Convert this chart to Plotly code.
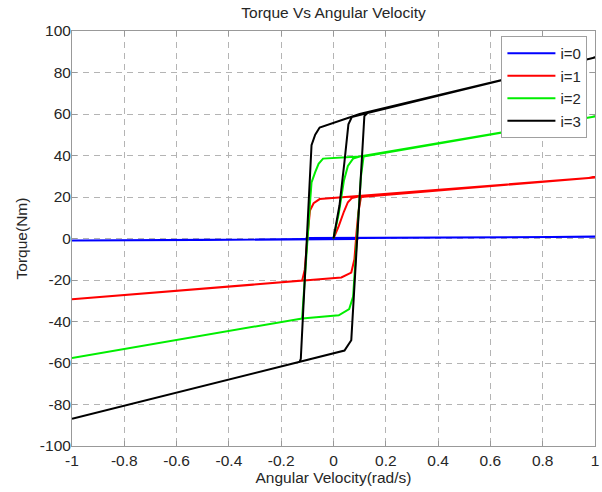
import plotly.graph_objects as go

# ---- data ----
names = ["i=0", "i=1", "i=2", "i=3"]
colors = ["#0000ff", "#ff0000", "#00ee00", "#000000"]

# i=0
v0_init = [0.0, 0.05]
t0_init = [0.0, 0.3]
v0_desc = [0.05, 1.0, -0.1, -0.11, -1.0]
t0_desc = [0.3, 0.8, 0.3, -0.3, -1.0]
v0_asc = [-1.0, 0.09, 0.1, 1.0]
t0_asc = [-1.0, -0.3, 0.3, 0.8]

# i=1
v1_init = [0.0, 0.02, 0.04, 0.055, 0.07, 0.1]
t1_init = [0.0, 6.0, 13.0, 17.5, 19.5, 20.4]
v1_desc = [0.1, 1.0, 0.1, -0.053, -0.076, -0.09, -0.1, -0.11, -0.12, -1.0]
t1_desc = [20.4, 29.4, 20.4, 19.0, 17.0, 13.5, 0.0, -15.0, -20.3, -29.3]
v1_asc = [-1.0, -0.12, 0.03, 0.068, 0.08, 0.088, 0.095, 0.105, 1.0]
t1_asc = [-29.3, -20.3, -18.8, -16.4, -10.0, 3.0, 12.5, 20.0, 29.4]

# i=2
v2_init = [0.0, 0.02, 0.04, 0.055, 0.075, 0.1]
t2_init = [0.0, 12.0, 28.0, 35.0, 38.5, 39.5]
v2_desc = [0.1, 1.0, 0.1, -0.04, -0.057, -0.07, -0.084, -0.09, -0.1, -0.11, -0.12, -1.0]
t2_desc = [39.5, 58.8, 39.5, 38.5, 36.0, 32.0, 27.0, 17.0, 0.0, -20.0, -38.5, -57.6]
v2_asc = [-1.0, -0.12, 0.02, 0.06, 0.075, 0.085, 0.095, 0.105, 0.115, 1.0]
t2_asc = [-57.6, -38.5, -37.0, -34.0, -28.0, -10.0, 10.0, 30.0, 39.5, 58.8]

# i=3
v3_init = [0.0, 0.023, 0.042, 0.057, 0.07, 0.13]
t3_init = [0.0, 16.0, 37.0, 55.0, 58.5, 60.5]
v3_desc = [0.13, 1.0, 0.1, -0.053, -0.07, -0.084, -0.1, -0.125, -0.13, -1.0]
t3_desc = [60.5, 87.2, 60.0, 53.5, 50.0, 45.0, 4.0, -58.0, -59.5, -86.9]
v3_asc = [-1.0, -0.125, 0.042, 0.068, 0.087, 0.118, 0.13, 1.0]
t3_asc = [-86.9, -59.0, -54.0, -49.0, -6.0, 59.0, 60.5, 87.2]

series = [
    (v0_init + v0_desc + v0_asc, t0_init + t0_desc + t0_asc),
    (v1_init + v1_desc + v1_asc, t1_init + t1_desc + t1_asc),
    (v2_init + v2_desc + v2_asc, t2_init + t2_desc + t2_asc),
    (v3_init + v3_desc + v3_asc, t3_init + t3_desc + t3_asc),
]

x_ticks = [-1, -0.8, -0.6, -0.4, -0.2, 0, 0.2, 0.4, 0.6, 0.8, 1]
x_tick_text = ["-1", "-0.8", "-0.6", "-0.4", "-0.2", "0", "0.2", "0.4", "0.6", "0.8", "1"]
y_ticks = [-100, -80, -60, -40, -20, 0, 20, 40, 60, 80, 100]
y_tick_text = [str(t) for t in y_ticks]

fig = go.Figure()
for name, color, (xs, ys) in zip(names, colors, series):
    fig.add_trace(go.Scatter(x=xs, y=ys, mode="lines", name=name,
                             line=dict(color=color, width=2)))

font_family = "Liberation Sans, Arial, sans-serif"
text_color = "#262626"
axis_common = dict(
    showgrid=True, gridcolor="#b4b4b4", gridwidth=1, griddash="6px,5px",
    zeroline=False, showline=True, linecolor="#999999", linewidth=1,
    mirror="ticks", ticks="inside", ticklen=5, tickcolor="#999999",
    tickfont=dict(family=font_family, size=15.5, color=text_color),
    ticklabeloverflow="allow",
)

fig.update_layout(
    width=602, height=492,
    margin=dict(l=72, r=3, t=31, b=46),
    paper_bgcolor="white", plot_bgcolor="white",
    title=dict(text="Torque Vs Angular Velocity", x=0.5, xref="paper", xanchor="center",
               y=1 - 13 / 492, yref="container", yanchor="middle",
               font=dict(family=font_family, size=15.5, color=text_color)),
    showlegend=True,
    legend=dict(x=0.9855, xanchor="right", y=0.988, yanchor="top",
                bgcolor="white", bordercolor="#a0a0a0", borderwidth=1,
                font=dict(family=font_family, size=15, color=text_color),
                itemwidth=48, tracegroupgap=0),
    xaxis=dict(range=[-1, 1], tickvals=x_ticks, ticktext=x_tick_text,
               title=dict(text="Angular Velocity(rad/s)", standoff=4,
                          font=dict(family=font_family, size=15.5, color=text_color)),
               **axis_common),
    yaxis=dict(range=[-100, 100], tickvals=y_ticks, ticktext=y_tick_text,
               ticklabelstandoff=-3,
               title=dict(text="Torque(Nm)", standoff=8,
                          font=dict(family=font_family, size=15.5, color=text_color)),
               **axis_common),
)

fig.write_html("out.html")
